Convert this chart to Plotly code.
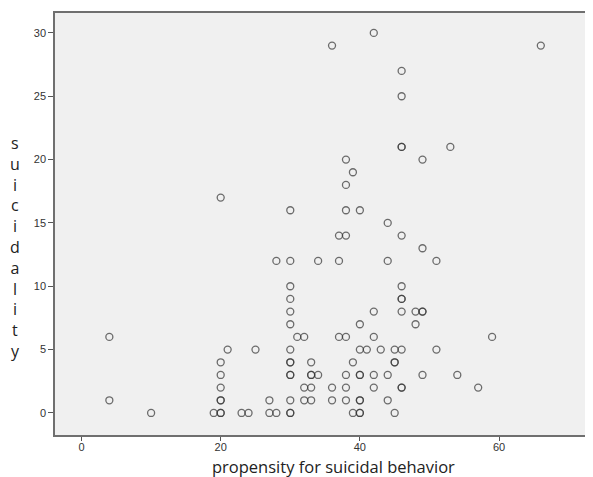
import plotly.graph_objects as go

# propensity for suicidal behavior (x) and suicidality (y); repeated pairs are overlapping cases
propensity = [
    42,
    36, 66,
    46,
    46,
    46, 46, 53,
    38, 49,
    39,
    38,
    20,
    30, 38, 40,
    44,
    37, 38, 46,
    49,
    28, 30, 34, 37, 44, 51,
    30, 46,
    30, 46, 46,
    30, 42, 46, 48, 49, 49,
    30, 40, 48,
    4, 31, 32, 37, 38, 42, 59,
    21, 25, 30, 40, 41, 43, 45, 46, 51,
    20, 30, 30, 33, 39, 45, 45,
    20, 30, 30, 33, 33, 34, 38, 40, 40, 42, 44, 49, 54,
    20, 32, 33, 36, 38, 42, 46, 46, 57,
    4, 20, 20, 27, 30, 32, 33, 36, 38, 40, 40, 44,
    10, 19, 20, 20, 23, 24, 27, 28, 30, 30, 39, 40, 40, 45,
]
suicidality = [
    30,
    29, 29,
    27,
    25,
    21, 21, 21,
    20, 20,
    19,
    18,
    17,
    16, 16, 16,
    15,
    14, 14, 14,
    13,
    12, 12, 12, 12, 12, 12,
    10, 10,
    9, 9, 9,
    8, 8, 8, 8, 8, 8,
    7, 7, 7,
    6, 6, 6, 6, 6, 6, 6,
    5, 5, 5, 5, 5, 5, 5, 5, 5,
    4, 4, 4, 4, 4, 4, 4,
    3, 3, 3, 3, 3, 3, 3, 3, 3, 3, 3, 3, 3,
    2, 2, 2, 2, 2, 2, 2, 2, 2,
    1, 1, 1, 1, 1, 1, 1, 1, 1, 1, 1, 1,
    0, 0, 0, 0, 0, 0, 0, 0, 0, 0, 0, 0, 0, 0,
]
x_ticks = [0, 20, 40, 60]
y_ticks = [0, 5, 10, 15, 20, 25, 30]
x_title = "propensity for suicidal behavior"
y_title = "suicidality"

# the page body adds an 8px margin, so the figure is laid out 8px smaller
OFF = 8
W, H = 593 - OFF, 477 - OFF
ML, MR, MT = 55 - OFF, 0, 13 - OFF
PLOT_BOTTOM = 435 - OFF
MB = H - PLOT_BOTTOM
PW, PH = W - ML - MR, H - MT - MB

fig = go.Figure()
fig.add_trace(go.Scatter(
    x=propensity, y=suicidality, mode="markers",
    marker=dict(symbol="circle-open", size=7, color="rgba(55,55,55,0.72)",
                line=dict(width=1.3)),
    hoverinfo="x+y", showlegend=False,
))

axis_line = "#6f6f6f"
fig.update_xaxes(
    range=[-3.81, 73.5], tickvals=x_ticks, showgrid=False, zeroline=False,
    showline=True, linecolor=axis_line, linewidth=1.5, mirror=True,
    ticks="outside", ticklen=4, tickcolor="#555", tickwidth=1,
    ticklabelstandoff=-3,
    tickfont=dict(family="Liberation Sans", size=11, color="#333"),
)
fig.update_yaxes(
    range=[-1.74, 31.57], tickvals=y_ticks, showgrid=False, zeroline=False,
    showline=True, linecolor=axis_line, linewidth=1.5,
    ticks="outside", ticklen=5, tickcolor="#555", tickwidth=1,
    tickfont=dict(family="Liberation Sans", size=11, color="#333"),
)

def px_to_paper_x(px):
    return (px - OFF - ML) / PW

def px_to_paper_y(py):
    return (H - MB - (py - OFF)) / PH

annotations = [
    dict(
        text=x_title, xref="paper", yref="paper",
        x=px_to_paper_x(333), y=px_to_paper_y(466), xanchor="center", yanchor="middle",
        showarrow=False, font=dict(family="Open Sans", size=16.5, color="#222"),
    ),
    dict(
        text="<br>".join(list(y_title)), xref="paper", yref="paper",
        x=px_to_paper_x(15), y=px_to_paper_y(247), xanchor="center", yanchor="middle",
        align="center", showarrow=False,
        font=dict(family="Open Sans", size=16, color="#222"),
    ),
]

fig.update_layout(
    width=W, height=H, margin=dict(l=ML, r=MR, t=MT, b=MB),
    paper_bgcolor="white", plot_bgcolor="#f0f0f0",
    annotations=annotations,
)

fig.write_html("out.html")
